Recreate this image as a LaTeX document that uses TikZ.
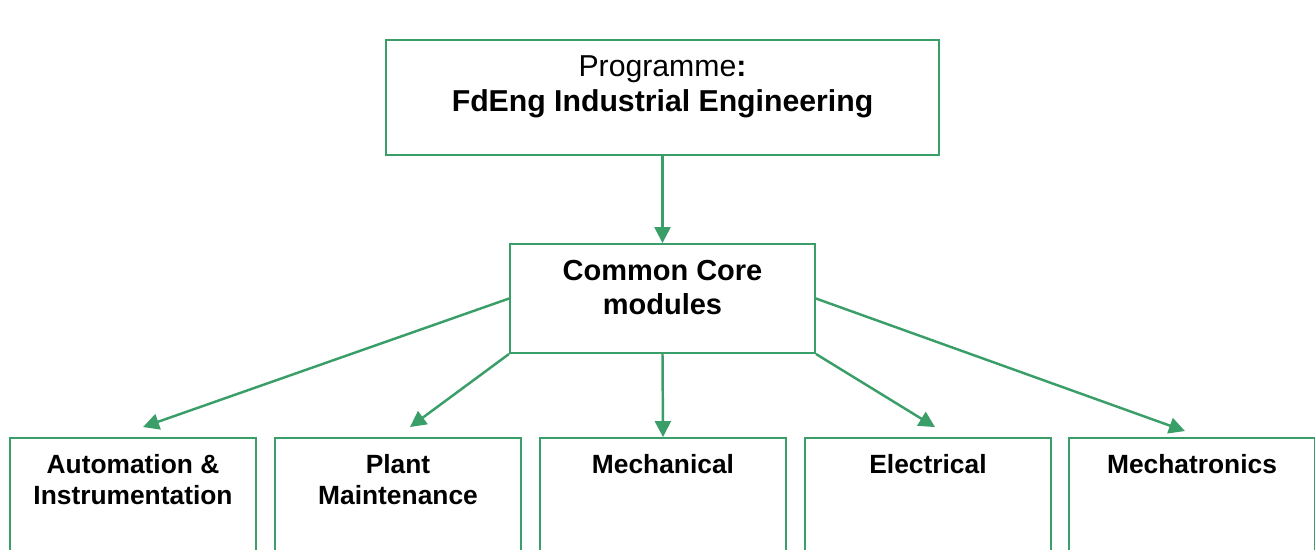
\documentclass[tikz,border=0pt]{standalone}
\usepackage{fontspec}
\setmainfont{Liberation Sans}
\usetikzlibrary{arrows.meta}
\definecolor{boxgreen}{RGB}{58,158,104}
\begin{document}
\begin{tikzpicture}
[x=0.02cm,y=-0.02cm,
 progbox/.style={rectangle,draw=boxgreen,line width=1.1pt,minimum width=11.06cm,minimum height=2.3cm,inner sep=0pt},
 corebox/.style={rectangle,draw=boxgreen,line width=1.1pt,minimum width=6.1cm,minimum height=2.18cm,inner sep=0pt},
 routebox/.style={rectangle,draw=boxgreen,line width=1.1pt,minimum width=4.92cm,minimum height=3.4cm,inner sep=0pt},
 boxtext/.style={anchor=north,align=center,inner xsep=0pt,inner ysep=0.33cm,font=\fontsize{16.5}{19.4}\selectfont},
 routetext/.style={anchor=north,align=center,inner xsep=0pt,inner ysep=0.34cm,font=\fontsize{15}{17.6}\selectfont\bfseries},
 arr/.style={draw=boxgreen,line width=1.4pt,-{Triangle[length=0.32cm,width=0.32cm]}}]
\useasboundingbox (0,0) rectangle (1315,549);
\clip (0,0) rectangle (1315,549);
\node[progbox,label={[boxtext,font=\fontsize{17.2}{19.6}\selectfont]north:Programme\textbf{:}\\\textbf{FdEng Industrial Engineering}}] (prog) at (662.5,97.5) {};
\node[corebox,label={[boxtext]north:\textbf{Common Core}\\\textbf{modules}}] (core) at (662.5,298.5) {};
\node[routebox,label={[routetext]north:Automation \&\\Instrumentation}] (auto)  at ( 133,523) {};
\node[routebox,label={[routetext]north:Plant\\Maintenance}]              (plant) at ( 398,523) {};
\node[routebox,label={[routetext]north:Mechanical}]                      (mech)  at ( 663,523) {};
\node[routebox,label={[routetext]north:Electrical}]                      (elec)  at ( 928,523) {};
\node[routebox,label={[routetext]north:Mechatronics}]                    (mtron) at (1192,523) {};
\path (prog.south)       edge[arr] (core.north)
      (core.west)        edge[arr] ([xshift=0.2cm,yshift=0.2cm]auto.north)
      (core.south west)  edge[arr] ([xshift=0.24cm,yshift=0.2cm]plant.north)
      (core.south)       edge[arr] (mech.north)
      (core.south east)  edge[arr] ([xshift=0.14cm,yshift=0.2cm]elec.north)
      (core.east)        edge[arr] ([xshift=-0.14cm,yshift=0.12cm]mtron.north);
\end{tikzpicture}
\end{document}
